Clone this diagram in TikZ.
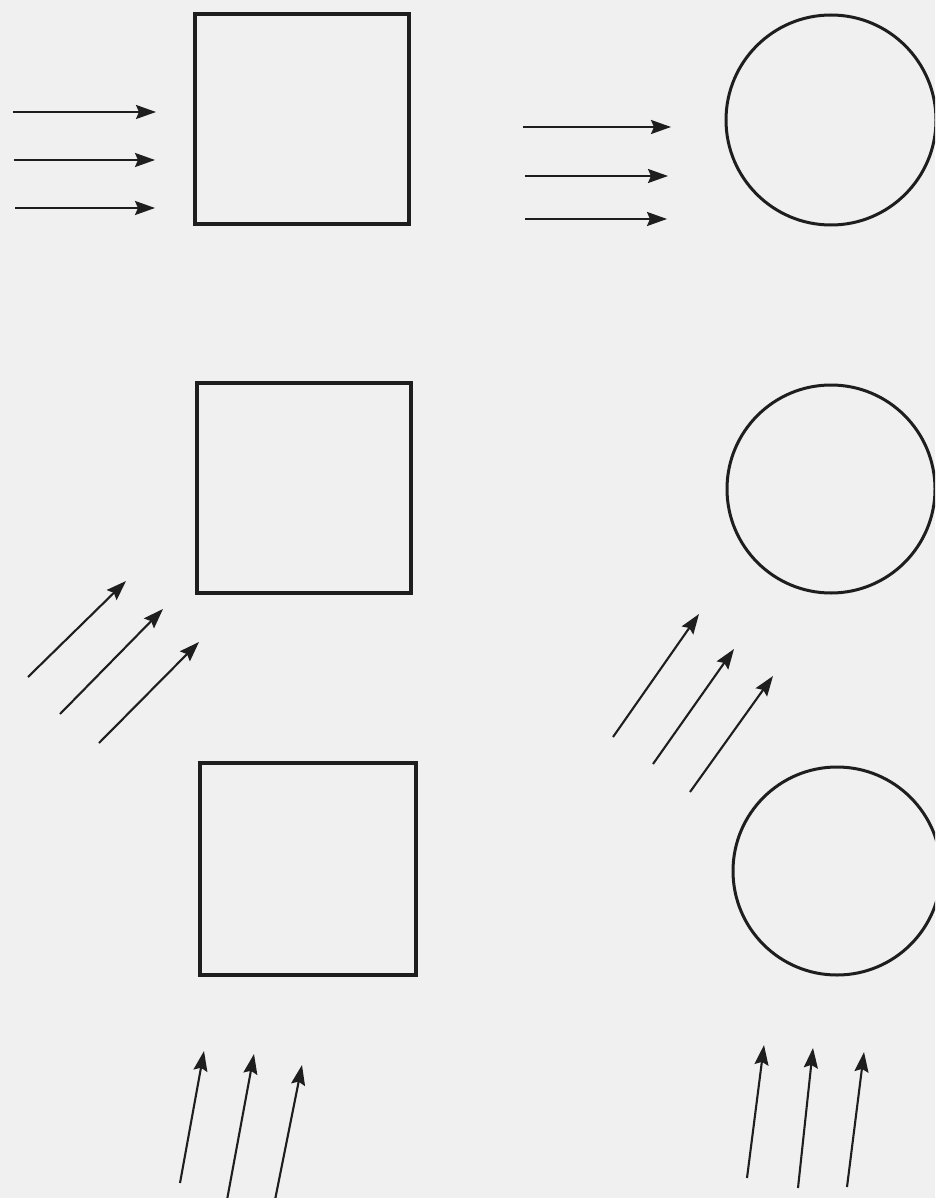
\documentclass[tikz,border=0pt]{standalone}
\usetikzlibrary{arrows.meta}
\definecolor{bg}{RGB}{240,240,240}
\definecolor{ink}{RGB}{30,30,30}
\begin{document}
\begin{tikzpicture}[x=1pt,y=-1pt,
  sq/.style={draw=ink,line width=3.2pt,rectangle,inner sep=0pt,minimum width=214pt,minimum height=210pt},
  rd/.style={draw=ink,line width=3pt,circle,inner sep=0pt,minimum size=#1},
  flow/.style={draw=ink,line width=2.1pt,-{Stealth[length=20pt,width=14pt,inset=3pt]}}]
\fill[bg] (0,0) rectangle (935,1198);
\useasboundingbox (0,0) rectangle (935,1198);
\clip (0,0) rectangle (935,1198);
% shapes
\node[sq] (s1) at (302,119) {};
\node[sq] (s2) at (304,488) {};
\node[sq,minimum width=216pt,minimum height=212pt] (s3) at (308,869) {};
\node[rd=210pt] (c1) at (831,120) {};
\node[rd=208pt] (c2) at (831,489) {};
\node[rd=208pt] (c3) at (837,871) {};
% row 1 left
\coordinate (a1s) at (13,112); \coordinate (a1e) at (156,112);
\coordinate (a2s) at (14,160); \coordinate (a2e) at (155,160);
\coordinate (a3s) at (15,208); \coordinate (a3e) at (155,208);
% row 1 right
\coordinate (b1s) at (523,127); \coordinate (b1e) at (671,127);
\coordinate (b2s) at (525,176); \coordinate (b2e) at (668,176);
\coordinate (b3s) at (525,219); \coordinate (b3e) at (667,219);
% row 2 left
\coordinate (c1s) at (28,677); \coordinate (c1e) at (126,581);
\coordinate (c2s) at (60,714); \coordinate (c2e) at (163,609);
\coordinate (c3s) at (99,743); \coordinate (c3e) at (199,642);
% row 2 right
\coordinate (d1s) at (613,737); \coordinate (d1e) at (699,614);
\coordinate (d2s) at (653,764); \coordinate (d2e) at (734,649);
\coordinate (d3s) at (690,792); \coordinate (d3e) at (773,676);
% row 3 left
\coordinate (e1s) at (180,1183); \coordinate (e1e) at (204,1051);
\coordinate (e2s) at (227,1200); \coordinate (e2e) at (254,1054);
\coordinate (e3s) at (275,1200); \coordinate (e3e) at (302,1065);
% row 3 right
\coordinate (f1s) at (747,1178); \coordinate (f1e) at (764,1045);
\coordinate (f2s) at (798,1188); \coordinate (f2e) at (813,1048);
\coordinate (f3s) at (847,1187); \coordinate (f3e) at (864,1052);
\foreach \p in {a,b,c,d,e,f}{
  \foreach \i in {1,2,3}{
    \draw[flow] (\p\i s) -- (\p\i e);
  }
}
\end{tikzpicture}
\end{document}
